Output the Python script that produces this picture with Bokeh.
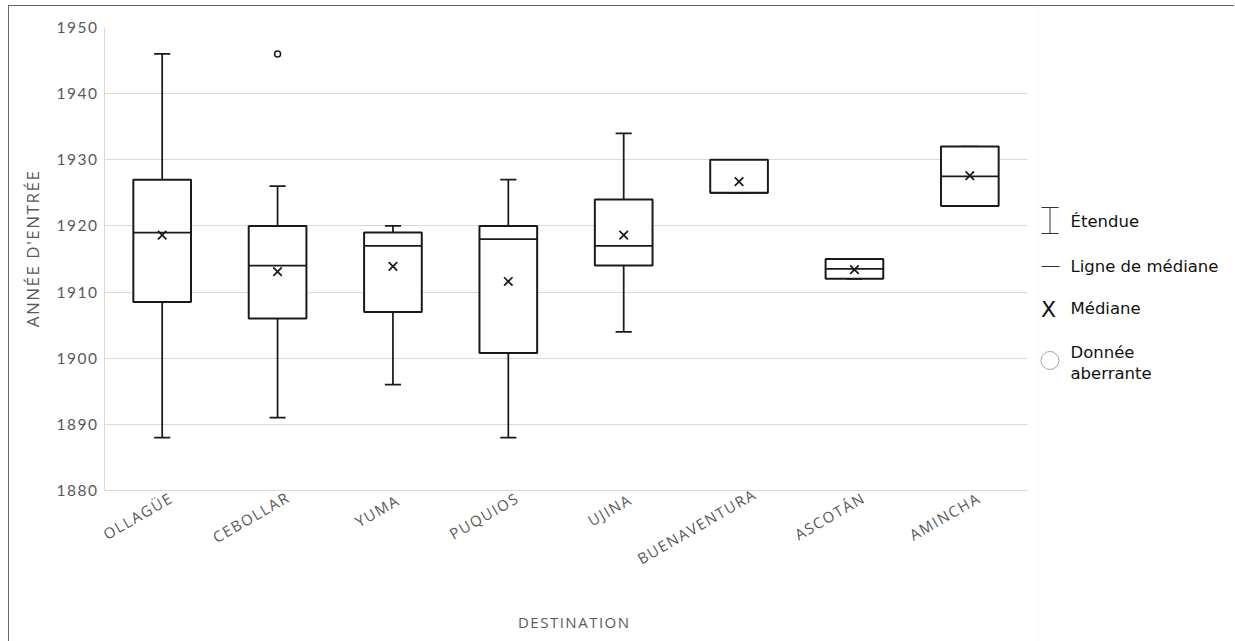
import math
from bokeh.plotting import figure
from bokeh.models import FactorRange, Range1d, ColumnDataSource, FixedTicker
from bokeh.transform import dodge
from bokeh.layouts import row
from bokeh.embed import file_html
from bokeh.resources import INLINE
from bokeh.core.properties import value

# ---- data ----
categories = ["OLLAGÜE", "CEBOLLAR", "YUMA", "PUQUIOS", "UJINA", "BUENAVENTURA", "ASCOTÁN", "AMINCHA"]
whisker_low = [1888, 1891, 1896, 1888, 1904, 1925, 1912, 1923]
q1 = [1908.5, 1906, 1907, 1900.8, 1914, 1925, 1912, 1923]
median = [1919, 1914, 1917, 1918, 1917, 1925, 1913.5, 1927.5]
q3 = [1927, 1920, 1919, 1920, 1924, 1930, 1915, 1932]
whisker_high = [1946, 1926, 1920, 1927, 1934, 1930, 1915, 1932]
mean = [1918.6, 1913.1, 1913.9, 1911.6, 1918.6, 1926.7, 1913.4, 1927.6]
outlier_cat = ["CEBOLLAR"]
outlier_val = [1946]
y_ticks = [1880, 1890, 1900, 1910, 1920, 1930, 1940, 1950]

legend_labels = ["Étendue", "Ligne de médiane", "Médiane", "Donnée", "aberrante"]

GRAY_TXT = "#595959"
GRID = "#d9d9d9"
INK = "#1a1a1a"

W_MAIN, W_LEG, H = 1028, 197, 635

src = ColumnDataSource(dict(cat=categories, low=whisker_low, q1=q1, med=median,
                            q3=q3, high=whisker_high, mean=mean))

p = figure(x_range=FactorRange(*categories), y_range=Range1d(1880, 1950),
           width=W_MAIN, height=H, output_backend="svg", toolbar_location=None,
           min_border_left=95, min_border_right=10, min_border_top=21, min_border_bottom=151)
p.outline_line_color = None
p.background_fill_color = "white"
p.border_fill_color = "white"
p.styles = {"letter-spacing": "1.5px"}

p.xgrid.visible = False
p.ygrid.grid_line_color = GRID
p.ygrid.grid_line_width = 1
p.yaxis.ticker = FixedTicker(ticks=y_ticks)

for ax in (p.xaxis[0], p.yaxis[0]):
    ax.axis_line_color = GRID
    ax.major_tick_line_color = None
    ax.minor_tick_line_color = None
    ax.major_label_text_color = GRAY_TXT
    ax.axis_label_text_color = GRAY_TXT
    ax.axis_label_text_font_style = "normal"

p.yaxis.major_label_text_font = "Lato"
p.yaxis.major_label_text_font_size = "15.5px"
p.yaxis.major_label_standoff = 6
p.yaxis.axis_label = "ANNÉE D'ENTRÉE"
p.yaxis.axis_label_text_font = "Open Sans"
p.yaxis.axis_label_text_font_size = "17px"
p.yaxis.axis_label_standoff = 10

p.xaxis.major_label_orientation = math.pi / 6
p.xaxis.major_label_text_font = "Open Sans"
p.xaxis.major_label_text_font_size = "15px"
p.xaxis.major_label_standoff = 5
p.xaxis.axis_label = "DESTINATION"
p.xaxis.axis_label_text_font = "Open Sans"
p.xaxis.axis_label_text_font_size = "15px"
p.xaxis.axis_label_standoff = 32

# whiskers
p.segment(x0="cat", y0="q3", x1="cat", y1="high", source=src, line_color=INK, line_width=1.75)
p.segment(x0="cat", y0="low", x1="cat", y1="q1", source=src, line_color=INK, line_width=1.75)
p.segment(x0=dodge("cat", -0.07, range=p.x_range), y0="high",
          x1=dodge("cat", 0.07, range=p.x_range), y1="high", source=src, line_color=INK, line_width=1.75)
p.segment(x0=dodge("cat", -0.07, range=p.x_range), y0="low",
          x1=dodge("cat", 0.07, range=p.x_range), y1="low", source=src, line_color=INK, line_width=1.75)
# boxes
p.vbar(x="cat", bottom="q1", top="q3", width=0.5, source=src,
       fill_color="white", line_color=INK, line_width=2)
# median lines
p.segment(x0=dodge("cat", -0.25, range=p.x_range), y0="med",
          x1=dodge("cat", 0.25, range=p.x_range), y1="med", source=src, line_color=INK, line_width=1.75)
# means
p.scatter(x="cat", y="mean", source=src, marker="x", size=12, line_color=INK, line_width=1.75)
# outliers
p.scatter(x=outlier_cat, y=outlier_val, marker="circle", size=6, fill_color="white",
          line_color=INK, line_width=1.5)

# ---- legend panel (pixel coordinates, y downward) ----
lg = figure(width=W_LEG, height=H, x_range=Range1d(0, W_LEG), y_range=Range1d(H, 0),
            output_backend="svg", toolbar_location=None, min_border=0,
            x_axis_location=None, y_axis_location=None)
lg.frame_align = False
lg.grid.visible = False
lg.outline_line_color = None
lg.background_fill_color = "white"
lg.border_fill_color = "white"

lg.segment(x0=[0.5], y0=[0], x1=[0.5], y1=[H], line_color="#f2f2f2", line_width=1)
# range icon
lg.segment(x0=[12.5, 4, 4], y0=[201, 201, 227], x1=[12.5, 21, 21], y1=[227, 201, 227],
           line_color="#333333", line_width=1)
# median-line icon
lg.segment(x0=[4], y0=[260], x1=[22], y1=[260], line_color="#333333", line_width=1)
# outlier icon
lg.circle(x=[12.5], y=[354], radius=9, fill_color=None, line_color="#a6a6a6", line_width=1)

lg.text(x=[11], y=[303], text=["X"], text_font=value("DejaVu Sans"), text_font_size="22px",
        text_align="center", text_baseline="middle", text_color="#111111")
lg.text(x=[33, 33, 33, 33, 33], y=[215, 260, 302, 346, 367], text=legend_labels,
        text_font=value("DejaVu Sans"), text_font_size="16.5px",
        text_align="left", text_baseline="middle", text_color="#111111")

layout = row(p, lg)
layout.styles = {"margin-left": "8px", "margin-top": "5px",
                 "border-left": "1px solid #666666", "border-top": "1px solid #666666"}

open("out.html", "w").write(file_html(layout, INLINE))
